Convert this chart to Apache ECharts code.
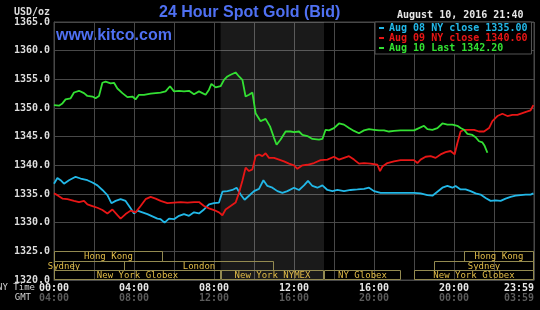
<!DOCTYPE html>
<html>
<head>
<meta charset="utf-8">
<title>24 Hour Spot Gold (Bid)</title>
<script src="https://cdn.jsdelivr.net/npm/echarts@6/dist/echarts.min.js"></script>
<style>
html, body { margin: 0; padding: 0; background: #000; }
#chart { width: 540px; height: 310px; }
</style>
</head>
<body>
<div id="chart"></div>
<script>
// [hours after NY midnight, price USD/oz]
var aug08 = [
  [0, 1336.8], [0.17, 1337.8], [0.33, 1337.4], [0.5, 1336.8], [0.75, 1337.4], [1.08, 1338.0], [1.33, 1337.7],
  [1.67, 1337.4], [1.92, 1337.0], [2.17, 1336.5], [2.42, 1335.7], [2.67, 1334.8], [2.87, 1333.4], [3.08, 1333.8],
  [3.33, 1334.1], [3.58, 1333.8], [3.83, 1332.5], [4.0, 1331.6], [4.17, 1332.1], [4.42, 1331.8], [4.67, 1331.5],
  [4.92, 1331.1], [5.17, 1330.7], [5.33, 1330.6], [5.53, 1330.0], [5.75, 1330.7], [6.0, 1330.6], [6.25, 1331.2],
  [6.5, 1331.5], [6.75, 1331.2], [7.0, 1331.8], [7.25, 1331.6], [7.5, 1332.3], [7.75, 1333.2], [8.0, 1333.4],
  [8.25, 1333.5], [8.42, 1335.4], [8.67, 1335.5], [8.92, 1335.7], [9.13, 1336.1], [9.33, 1334.9], [9.53, 1334.0],
  [9.75, 1334.7], [10.0, 1335.5], [10.25, 1335.9], [10.47, 1337.4], [10.67, 1336.4], [10.92, 1336.1], [11.17, 1335.5],
  [11.42, 1335.2], [11.67, 1335.5], [12.0, 1336.1], [12.25, 1335.7], [12.5, 1336.5], [12.7, 1337.3], [12.92, 1336.4],
  [13.17, 1336.1], [13.42, 1336.5], [13.67, 1335.7], [13.92, 1335.5], [14.17, 1335.7], [14.5, 1335.5], [14.83, 1335.7],
  [15.17, 1335.8], [15.5, 1335.9], [15.75, 1336.1], [16.0, 1335.5], [16.33, 1335.2], [16.67, 1335.2], [17.0, 1335.2],
  [17.33, 1335.2], [17.67, 1335.2], [18.0, 1335.2], [18.33, 1335.1], [18.67, 1334.8], [18.92, 1334.7], [19.17, 1335.4],
  [19.42, 1336.1], [19.67, 1336.4], [19.92, 1336.1], [20.08, 1336.4], [20.33, 1335.8], [20.58, 1335.8], [20.83, 1335.5],
  [21.08, 1335.1], [21.33, 1334.9], [21.58, 1334.3], [21.83, 1333.8], [22.08, 1333.9], [22.33, 1333.8], [22.58, 1334.2],
  [22.83, 1334.5], [23.08, 1334.7], [23.33, 1334.8], [23.58, 1334.9], [23.83, 1334.9], [23.97, 1335.1]
];
var aug09 = [
  [0, 1335.1], [0.17, 1334.8], [0.42, 1334.2], [0.67, 1334.1], [1.0, 1333.8], [1.25, 1333.6], [1.5, 1333.8],
  [1.67, 1333.2], [1.92, 1332.9], [2.17, 1332.6], [2.42, 1332.2], [2.67, 1331.6], [2.92, 1332.3], [3.17, 1331.3],
  [3.33, 1330.7], [3.58, 1331.5], [3.83, 1332.1], [4.08, 1331.8], [4.33, 1332.9], [4.58, 1334.1], [4.83, 1334.5],
  [5.08, 1334.2], [5.33, 1333.8], [5.67, 1333.4], [6.0, 1333.5], [6.33, 1333.6], [6.67, 1333.5], [7.0, 1333.6],
  [7.25, 1333.6], [7.5, 1332.9], [7.75, 1332.5], [8.0, 1332.2], [8.25, 1331.8], [8.42, 1331.3], [8.58, 1332.3],
  [8.83, 1332.9], [9.08, 1333.5], [9.25, 1335.2], [9.42, 1337.3], [9.58, 1339.6], [9.75, 1339.0], [9.92, 1339.3],
  [10.08, 1341.6], [10.25, 1341.9], [10.42, 1341.6], [10.58, 1342.1], [10.75, 1341.3], [11.0, 1341.3], [11.25, 1341.0],
  [11.5, 1340.7], [11.75, 1340.3], [12.0, 1340.0], [12.17, 1339.4], [12.42, 1340.0], [12.67, 1340.1], [13.0, 1340.4],
  [13.33, 1340.9], [13.67, 1341.0], [14.0, 1341.5], [14.25, 1341.0], [14.5, 1341.3], [14.75, 1341.6], [15.0, 1341.0],
  [15.25, 1340.3], [15.5, 1340.4], [15.83, 1340.3], [16.17, 1340.1], [16.3, 1339.0], [16.42, 1339.8], [16.67, 1340.4],
  [17.0, 1340.7], [17.33, 1340.9], [17.67, 1340.9], [18.0, 1340.9], [18.17, 1340.4], [18.33, 1341.0], [18.58, 1341.5],
  [18.83, 1341.6], [19.08, 1341.3], [19.33, 1341.9], [19.58, 1342.3], [19.83, 1342.5], [20.03, 1341.9], [20.17, 1343.9],
  [20.33, 1345.9], [20.5, 1346.2], [20.75, 1346.2], [21.0, 1346.2], [21.25, 1345.9], [21.5, 1345.9], [21.75, 1346.5],
  [21.92, 1347.7], [22.17, 1348.6], [22.42, 1349.0], [22.67, 1348.6], [22.92, 1348.8], [23.17, 1348.8], [23.42, 1349.1],
  [23.67, 1349.4], [23.83, 1349.6], [23.97, 1350.5]
];
var aug10 = [
  [0, 1350.5], [0.25, 1350.4], [0.42, 1350.8], [0.58, 1351.5], [0.83, 1351.7], [1.0, 1352.7], [1.25, 1353.0],
  [1.5, 1352.6], [1.67, 1352.1], [1.92, 1352.0], [2.08, 1351.7], [2.25, 1352.1], [2.42, 1354.4], [2.58, 1354.6],
  [2.83, 1354.3], [3.0, 1354.4], [3.17, 1353.4], [3.42, 1352.6], [3.67, 1351.9], [3.92, 1352.0], [4.08, 1351.5],
  [4.25, 1352.3], [4.5, 1352.3], [4.83, 1352.5], [5.08, 1352.6], [5.33, 1352.7], [5.58, 1352.9], [5.8, 1353.8],
  [6.0, 1352.9], [6.25, 1353.0], [6.5, 1352.9], [6.75, 1353.0], [7.0, 1352.4], [7.25, 1352.9], [7.42, 1352.6],
  [7.58, 1352.3], [7.75, 1353.2], [7.87, 1354.2], [8.08, 1353.6], [8.33, 1353.8], [8.5, 1354.9], [8.67, 1355.5],
  [8.83, 1355.8], [9.08, 1356.2], [9.25, 1355.5], [9.42, 1354.9], [9.58, 1352.0], [9.75, 1352.3], [9.92, 1352.7],
  [10.08, 1349.1], [10.33, 1347.7], [10.58, 1348.1], [10.8, 1346.8], [11.0, 1344.8], [11.13, 1343.6], [11.33, 1344.5],
  [11.58, 1345.9], [11.83, 1345.9], [12.0, 1345.8], [12.25, 1345.9], [12.42, 1345.3], [12.67, 1345.1], [12.92, 1344.6],
  [13.25, 1344.5], [13.42, 1344.6], [13.58, 1346.2], [13.75, 1346.1], [14.0, 1346.5], [14.25, 1347.3], [14.5, 1347.1],
  [14.75, 1346.5], [15.0, 1346.0], [15.25, 1345.6], [15.5, 1346.1], [15.75, 1346.3], [16.0, 1346.2], [16.25, 1346.1],
  [16.5, 1346.1], [16.75, 1345.9], [17.0, 1346.0], [17.33, 1346.1], [17.67, 1346.1], [18.0, 1346.1], [18.25, 1346.5],
  [18.5, 1346.9], [18.67, 1346.3], [18.92, 1346.2], [19.17, 1346.5], [19.42, 1347.3], [19.67, 1347.1], [19.92, 1347.1],
  [20.17, 1346.9], [20.33, 1346.5], [20.5, 1346.2], [20.67, 1345.5], [20.92, 1345.3], [21.08, 1344.9], [21.25, 1344.2],
  [21.42, 1344.0], [21.53, 1343.4], [21.67, 1342.2]
];

var seriesNames = ['Aug 08 NY close 1335.00', 'Aug 09 NY close 1340.60', 'Aug 10 Last 1342.20'];
var seriesColors = ['#22b8e8', '#e81616', '#33e033'];

var nyTimeLabels = ['00:00', '04:00', '08:00', '12:00', '16:00', '20:00', '23:59'];
var gmtTimeLabels = ['04:00', '08:00', '12:00', '16:00', '20:00', '00:00', '03:59'];

// trading sessions (NY time hours), row 0 = top
var sessionNames = ['Hong Kong', 'Hong Kong', 'Sydney', 'London', 'Sydney', 'New York Globex', 'New York NYMEX', 'NY Globex', 'New York Globex'];
var sessionStart = [0, 20.5, 0, 3.5, 19, 0, 8.33, 13.5, 18];
var sessionEnd = [5.45, 24, 1, 11, 24, 8.33, 13.5, 17.33, 24];
var sessionRow = [0, 0, 1, 1, 1, 2, 2, 2, 2];

var nymexHours = [8.33, 13.5];

var mono = '"DejaVu Sans Mono", monospace';

function drawSession(params, api) {
    var i = params.dataIndex;
    var row = api.value(2);
    var p0 = api.coord([api.value(0), 1325]);
    var p1 = api.coord([api.value(1), 1325]);
    var rowH = 9.3;
    var top = Math.round(p0[1] + row * rowH) + 0.5;
    var bottom = Math.round(p0[1] + (row + 1) * rowH) + 0.5;
    var left = Math.round(p0[0]) + 0.5;
    var right = Math.round(p1[0]) - 0.5;
    return {
        type: 'group',
        children: [{
            type: 'rect',
            shape: { x: left, y: top, width: right - left, height: bottom - top },
            style: { fill: 'none', stroke: '#938a50', lineWidth: 1 }
        }, {
            type: 'text',
            style: {
                text: sessionNames[i],
                x: (left + right) / 2,
                y: (top + bottom) / 2 + 0.5,
                align: 'center',
                verticalAlign: 'middle',
                fill: '#e2bd48',
                font: '9px ' + mono
            }
        }]
    };
}

var chart = echarts.init(document.getElementById('chart'));
var lineData = [aug08, aug09, aug10];

var series = lineData.map(function (d, i) {
    return {
        name: seriesNames[i],
        type: 'line',
        data: d,
        showSymbol: false,
        silent: true,
        lineStyle: { color: seriesColors[i], width: 1.8 },
        itemStyle: { color: seriesColors[i] },
        z: 3
    };
});
series[0].markArea = {
    silent: true,
    itemStyle: { color: 'rgba(255,255,255,0.1)' },
    data: [[{ xAxis: nymexHours[0] }, { xAxis: nymexHours[1] }]]
};
series.push({
    type: 'custom',
    silent: true,
    renderItem: drawSession,
    encode: { x: [0, 1], y: 3 },
    data: sessionStart.map(function (s, i) {
        return [s, sessionEnd[i], sessionRow[i], 1322];
    }),
    z: 4
});

chart.setOption({
    backgroundColor: '#000',
    animation: false,
    title: {
        text: '24 Hour Spot Gold (Bid)',
        left: 159,
        top: 5,
        padding: 0,
        textStyle: { color: '#4f70f2', fontFamily: 'Liberation Sans', fontSize: 16, fontWeight: 'bold' }
    },
    legend: {
        orient: 'vertical',
        left: 375,
        top: 22,
        padding: [1, 4, 1, 4],
        itemGap: 0,
        itemWidth: 5,
        itemHeight: 2,
        icon: 'rect',
        selectedMode: false,
        backgroundColor: '#000',
        borderColor: '#555',
        borderWidth: 1,
        borderRadius: 0,
        textStyle: { fontFamily: mono, fontSize: 10, fontWeight: 'bold', lineHeight: 9 },
        data: seriesNames.map(function (n, i) {
            return { name: n, textStyle: { color: seriesColors[i] }, itemStyle: { color: seriesColors[i] } };
        })
    },
    grid: {
        left: 54, right: 6, top: 22, bottom: 30,
        show: true, borderColor: '#484848', borderWidth: 1
    },
    xAxis: {
        type: 'value',
        min: 0,
        max: 24,
        interval: 2,
        axisLine: { lineStyle: { color: '#484848' } },
        axisTick: { show: false },
        splitLine: { show: true, lineStyle: { color: '#484848' } },
        axisLabel: {
            margin: 3,
            alignMaxLabel: 'right',
            formatter: function (v) {
                if (v % 4 !== 0) return '';
                var k = v / 4;
                return '{ny|' + nyTimeLabels[k] + '}\n{gmt|' + gmtTimeLabels[k] + '}';
            },
            rich: {
                ny: { color: '#e8e8e8', fontFamily: mono, fontSize: 10, fontWeight: 'bold', lineHeight: 10 },
                gmt: { color: '#5c5c5c', fontFamily: mono, fontSize: 10, fontWeight: 'bold', lineHeight: 10 }
            }
        }
    },
    yAxis: {
        type: 'value',
        min: 1320,
        max: 1365,
        interval: 5,
        name: 'USD/oz',
        nameLocation: 'end',
        nameGap: 5,
        nameTextStyle: { color: '#dddddd', fontFamily: mono, fontSize: 10, fontWeight: 'bold', align: 'right', verticalAlign: 'bottom', padding: [0, 4, 0, 0] },
        axisLine: { show: true, lineStyle: { color: '#484848' } },
        axisTick: { show: false },
        splitLine: { show: true, lineStyle: { color: '#484848' } },
        axisLabel: {
            margin: 4,
            color: '#dddddd',
            fontFamily: mono,
            fontSize: 10,
            fontWeight: 'bold',
            formatter: function (v) { return v.toFixed(1); }
        }
    },
    graphic: [{
        type: 'text', left: 56, top: 28,
        style: { text: 'www.kitco.com', fill: '#4f70f2', font: 'bold 16px "Liberation Sans"' }
    }, {
        type: 'text', left: 397, top: 10,
        style: { text: 'August 10, 2016 21:40', fill: '#e6e6e6', font: 'bold 10px ' + mono }
    }, {
        type: 'text', right: 505, top: 283,
        style: { text: 'NY Time', fill: '#d0d0d0', font: '9px ' + mono }
    }, {
        type: 'text', right: 509, top: 293,
        style: { text: 'GMT', fill: '#d0d0d0', font: '9px ' + mono }
    }],
    series: series
});
</script>
</body>
</html>
